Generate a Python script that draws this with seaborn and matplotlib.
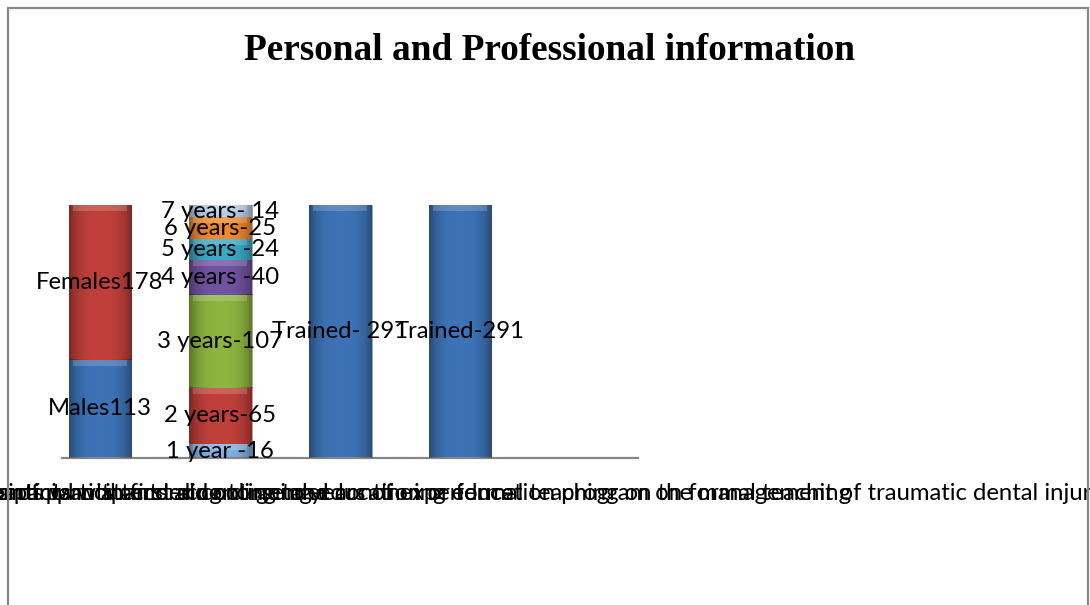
import numpy as np
import pandas as pd
import matplotlib
matplotlib.use("Agg")
import matplotlib.pyplot as plt
import seaborn as sns
from matplotlib.patches import Rectangle

# ---------------- data ----------------
categories = [
    "Number of participants according to gender",
    "Number of participants according to years of experience",
    "Number of participants with first aid course and continuing education program on formal teaching",
    "Number of participants who attended continuing education or formal teaching on the management of traumatic dental injuries",
]
segment_category = [0, 0, 1, 1, 1, 1, 1, 1, 1, 2, 3]
segment_values = [113, 178, 16, 65, 107, 40, 24, 25, 14, 291, 291]
segment_labels = ["Males113", "Females178", "1 year -16", "2 years-65", "3 years-107",
                  "4 years -40", "5 years -24", "6 years-25", "7 years- 14",
                  "Trained- 291", "Trained-291"]
title = "Personal and Professional information"

# ---------------- style ----------------
segment_colors = ["#3D73B6", "#C03F3A", "#7DB0E0", "#C03F3A", "#8DB43E",
                  "#7152A0", "#3AAAC8", "#F0892C", "#B5CDE8", "#3D73B6", "#3D73B6"]

sns.set_style("white")
plt.rcParams["font.family"] = ["Lato", "DejaVu Sans"]

W, H = 1090, 605
fig = plt.figure(figsize=(W / 100, H / 100), dpi=100)
fig.patch.set_facecolor("white")

# axes placement (pixels)
ax_left, ax_right, ax_base, ax_top = 62, 638, 458, 205
ax = fig.add_axes([ax_left / W, (H - ax_base) / H, (ax_right - ax_left) / W, (ax_base - ax_top) / H])

df = pd.DataFrame({
    "cat": [categories[i] for i in segment_category],
    "ci": segment_category,
    "val": segment_values,
    "label": segment_labels,
    "color": segment_colors,
})
df["top"] = df.groupby("ci")["val"].cumsum()
df["bottom"] = df["top"] - df["val"]

# draw cumulative bars from tallest to shortest so lower segments overlay
for _, r in df.sort_values("top", ascending=False).iterrows():
    sns.barplot(x=[r["cat"]], y=[r["top"]], order=categories, color=r["color"],
                saturation=1, width=0.525, linewidth=0, ax=ax, errorbar=None)

# subtle bevel shading on each visible segment
grad = np.linspace(-1, 1, 64)
shade = np.abs(grad) ** 3
for _, r in df.iterrows():
    x0 = r["ci"] - 0.525 / 2
    img = np.zeros((2, 64, 4))
    img[..., 3] = shade * 0.35
    ax.imshow(img, extent=[x0, x0 + 0.525, r["bottom"], r["top"]], aspect="auto",
              zorder=3, interpolation="bilinear")
    band = 6 / (ax_base - ax_top) * 291
    ax.add_patch(Rectangle((x0 + 0.04, r["top"] - band), 0.525 - 0.08, band,
                           facecolor="white", alpha=0.18, linewidth=0, zorder=4))

ax.set_xlim(-38 / 120, (ax_right - ax_left - 38) / 120)
ax.set_ylim(0, 291)

# fit fonts by width
fig.canvas.draw()
renderer = fig.canvas.get_renderer()

def fit_size(text, target_px, **kw):
    t = fig.text(0, 0, text, fontsize=20, **kw)
    w = t.get_window_extent(renderer).width
    t.remove()
    return 20 * target_px / w

lab_fs = fit_size("Females178", 128)
title_fs = fit_size(title, 611, family="Liberation Serif", weight="bold")

for _, r in df.iterrows():
    ax.text(r["ci"], r["bottom"] + r["val"] / 2, r["label"], ha="center", va="center",
            fontsize=lab_fs, color="black", zorder=6)

ax.set_xticks(range(len(categories)))
ax.set_xticklabels(categories, fontsize=lab_fs, color="black")
ax.tick_params(axis="x", length=0, pad=18)
ax.set_yticks([])
ax.set_xlabel("")
ax.set_ylabel("")
for s in ["left", "right", "top"]:
    ax.spines[s].set_visible(False)
ax.spines["bottom"].set_color("#878787")
ax.spines["bottom"].set_linewidth(1.6)

fig.text(550 / W, 1 - 51 / H, title, ha="center", va="center",
         family="Liberation Serif", weight="bold", fontsize=title_fs, color="black")

# outer border of the chart area
fig.add_artist(Rectangle((7.5 / W, -0.05), (1087.5 - 7.5) / W, 1.05 - 7.5 / H,
                         transform=fig.transFigure, fill=False,
                         edgecolor="#878787", linewidth=1.6))

fig.savefig("out.png", dpi=100)
